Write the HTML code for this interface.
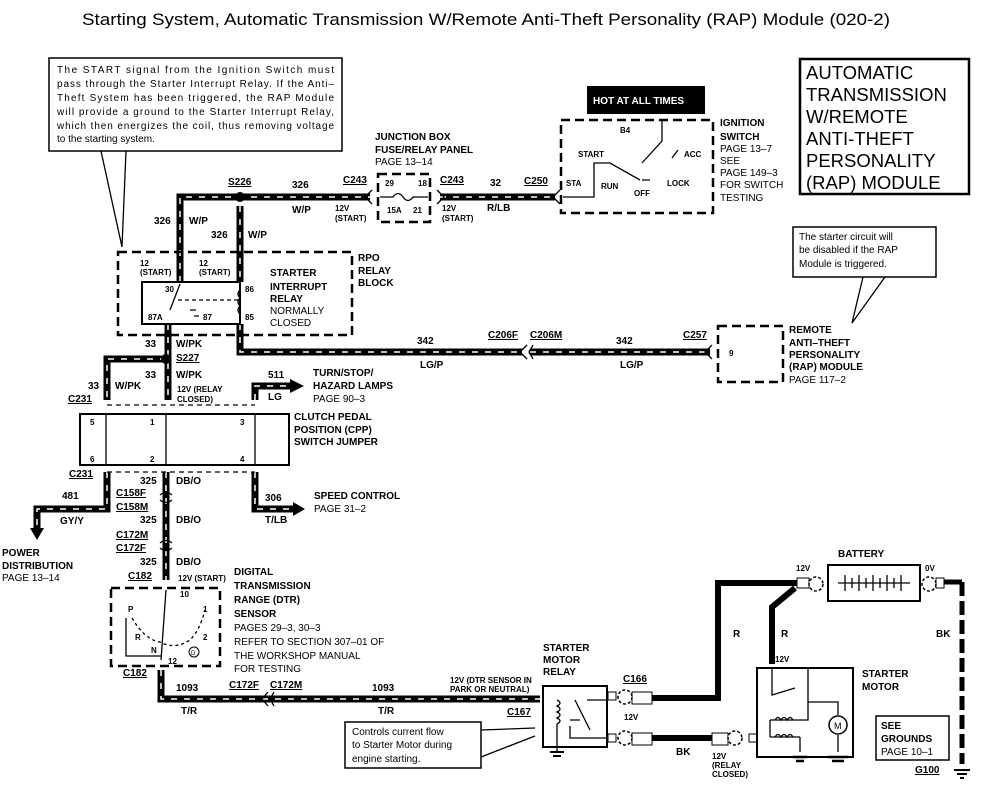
<!DOCTYPE html>
<html><head><meta charset="utf-8"><style>
html,body{margin:0;padding:0;background:#fff;}
svg{display:block;font-family:"Liberation Sans",sans-serif;}
.b{font-weight:bold;font-size:10px;}
.n{font-size:10px;}
.s{font-size:8px;font-weight:bold;}
.w{fill:none;stroke:#000;stroke-width:7;stroke-linejoin:miter;}
.d{fill:none;stroke:#fff;stroke-width:1.5;stroke-dasharray:6 7;}
.l{fill:none;stroke:#000;stroke-width:1.3;}
.dash{fill:none;stroke:#000;stroke-width:2.5;stroke-dasharray:9 5;}
</style></head><body>
<svg width="990" height="789" viewBox="0 0 990 789">
<text x="82" y="25" font-size="17" textLength="808" lengthAdjust="spacingAndGlyphs">Starting System, Automatic Transmission W/Remote Anti-Theft Personality (RAP) Module (020-2)</text>

<rect x="49" y="58" width="293" height="93" fill="#fff" stroke="#000" stroke-width="1.5"/>
<path class="l" d="M101 151 L122 247 M126 151 L122 247"/>
<g class="n" font-size="10.5">
<text x="57" y="73" textLength="277">The START signal from the Ignition Switch must</text>
<text x="57" y="87" textLength="277">pass through the Starter Interrupt Relay. If the Anti–</text>
<text x="57" y="101" textLength="277">Theft System has been triggered, the RAP Module</text>
<text x="57" y="115" textLength="277">will provide a ground to the Starter Interrupt Relay,</text>
<text x="57" y="129" textLength="277">which then energizes the coil, thus removing voltage</text>
<text x="57" y="142">to the starting system.</text>
</g>

<g>
<path class="w" d="M180 282 V197 H370"/><path class="d" d="M180 282 V197 H370"/>
<path class="w" d="M240 206 V282"/><path class="d" d="M240 206 V282"/>
<path class="w" d="M440 197 H555"/><path class="d" d="M440 197 H555"/>
<path class="w" d="M240 324 V352 H522"/><path class="d" d="M240 324 V352 H522"/>
<path class="w" d="M530 352 H710"/><path class="d" d="M530 352 H710"/>
<path class="w" d="M168 324 V400"/><path class="d" d="M168 324 V400"/>
<path class="w" d="M166 359 H107 V400"/><path class="d" d="M166 359 H107 V400"/>
<path class="w" d="M255 400 V386 H290"/><path class="d" d="M255 400 V386 H290"/>
<path class="w" d="M107 472 V509 H37 V528"/><path class="d" d="M107 472 V509 H37 V528"/>
<path class="w" d="M166 472 V580"/><path class="d" d="M166 472 V580"/>
<path class="w" d="M255 472 V509 H293"/><path class="d" d="M255 472 V509 H293"/>
<path class="w" d="M161 670 V699 H540"/><path class="d" d="M161 670 V699 H540"/>
</g>
<circle cx="240" cy="197" r="5"/>
<circle cx="166" cy="359" r="5"/>
<polygon points="290,379 304,386 290,393"/>
<polygon points="293,502 305,509 293,516"/>
<polygon points="30,528 44,528 37,540"/>
<path d="M372 190 L365 197 L372 204" class="l" stroke-width="2.5"/>
<path d="M437 190 L444 197 L437 204" class="l" stroke-width="2.5"/>
<path d="M560 190 L553 197 L560 204" class="l" stroke-width="2.5"/>
<path d="M712 345 L705 352 L712 359" class="l" stroke-width="2.5"/>
<path d="M527 345 L520 352 L527 359 M533 345 L529 352 L533 359" class="l" stroke-width="2.5"/>
<path d="M268 692 L262 699 L268 706 M274 692 L270 699 L274 706" class="l" stroke-width="2.5"/>
<path d="M160 495 Q166 490 172 495 M160 500 Q166 505 172 500 M160 543 Q166 538 172 543 M160 548 Q166 553 172 548" class="l" stroke-width="2.5"/>

<path class="l" stroke-dasharray="5 4" d="M107 405 H255 M107 472 H255"/>

<text x="228" y="185" class="b" text-decoration="underline">S226</text>
<text x="292" y="188" class="b">326</text>
<text x="292" y="213" class="b">W/P</text>
<text x="335" y="211" class="s">12V</text><text x="335" y="221" class="s">(START)</text>
<text x="343" y="183" class="b" text-decoration="underline">C243</text>
<text x="440" y="183" class="b" text-decoration="underline">C243</text>
<text x="442" y="211" class="s">12V</text><text x="442" y="221" class="s">(START)</text>
<text x="490" y="186" class="b">32</text><text x="487" y="211" class="b">R/LB</text>
<text x="524" y="184" class="b" text-decoration="underline">C250</text>
<text x="375" y="140" class="b">JUNCTION BOX</text>
<text x="375" y="153" class="b">FUSE/RELAY PANEL</text>
<text x="375" y="165" class="n">PAGE 13–14</text>
<rect x="378" y="174" width="52" height="48" class="dash" stroke-width="2"/>
<text x="385" y="186" class="s">29</text><text x="418" y="186" class="s">18</text>
<text x="387" y="213" class="s">15A</text><text x="413" y="213" class="s">21</text>
<path class="l" d="M380 197 H393 Q398 190 403 197 Q408 204 413 197 H428"/>

<text x="154" y="224" class="b">326</text><text x="189" y="224" class="b">W/P</text>
<text x="211" y="238" class="b">326</text><text x="248" y="238" class="b">W/P</text>

<rect x="118" y="252" width="234" height="83" class="dash"/>
<text x="358" y="261" class="b">RPO</text><text x="358" y="274" class="b">RELAY</text><text x="358" y="286" class="b">BLOCK</text>
<text x="140" y="266" class="s">12</text><text x="140" y="275" class="s">(START)</text>
<text x="199" y="266" class="s">12</text><text x="199" y="275" class="s">(START)</text>
<rect x="142" y="282" width="98" height="42" fill="#fff" stroke="#000" stroke-width="2"/>
<text x="165" y="292" class="s">30</text><text x="245" y="292" class="s">86</text>
<text x="148" y="320" class="s">87A</text><text x="203" y="320" class="s">87</text><text x="245" y="320" class="s">85</text>
<path class="l" d="M180 284 L170 310"/>
<path class="l" stroke-dasharray="4 3" d="M178 300 H238"/>
<path class="l" d="M240 290 q-4 4 0 8 q-4 4 0 8 q-4 4 0 8 M194 316 h5 M190 310 h6"/>
<text x="270" y="276" class="b">STARTER</text><text x="270" y="290" class="b">INTERRUPT</text>
<text x="270" y="302" class="b">RELAY</text><text x="270" y="314" class="n">NORMALLY</text><text x="270" y="326" class="n">CLOSED</text>

<text x="145" y="347" class="b">33</text><text x="176" y="347" class="b">W/PK</text>
<text x="176" y="361" class="b" text-decoration="underline">S227</text>
<text x="145" y="378" class="b">33</text><text x="176" y="378" class="b">W/PK</text>
<text x="88" y="389" class="b">33</text><text x="115" y="389" class="b">W/PK</text>
<text x="177" y="392" class="s">12V (RELAY</text><text x="177" y="402" class="s">CLOSED)</text>
<text x="68" y="402" class="b" text-decoration="underline">C231</text>
<text x="268" y="378" class="b">511</text><text x="268" y="400" class="b">LG</text>
<text x="313" y="376" class="b">TURN/STOP/</text><text x="313" y="389" class="b">HAZARD LAMPS</text><text x="313" y="402" class="n">PAGE 90–3</text>

<text x="417" y="344" class="b">342</text><text x="420" y="368" class="b">LG/P</text>
<text x="488" y="338" class="b" text-decoration="underline">C206F</text>
<text x="530" y="338" class="b" text-decoration="underline">C206M</text>
<text x="616" y="344" class="b">342</text><text x="620" y="368" class="b">LG/P</text>
<text x="683" y="338" class="b" text-decoration="underline">C257</text>

<rect x="80" y="414" width="209" height="51" fill="none" stroke="#000" stroke-width="2"/>
<path class="l" d="M106 414 V465 M166 414 V465 M255 414 V465"/>
<text x="90" y="425" class="s">5</text><text x="150" y="425" class="s">1</text><text x="240" y="425" class="s">3</text>
<text x="90" y="462" class="s">6</text><text x="150" y="462" class="s">2</text><text x="240" y="462" class="s">4</text>
<text x="294" y="420" class="b">CLUTCH PEDAL</text><text x="294" y="433" class="b">POSITION (CPP)</text><text x="294" y="445" class="b">SWITCH JUMPER</text>
<text x="69" y="477" class="b" text-decoration="underline">C231</text>
<text x="140" y="484" class="b">325</text><text x="176" y="484" class="b">DB/O</text>
<text x="62" y="499" class="b">481</text><text x="60" y="524" class="b">GY/Y</text>
<text x="116" y="496" class="b" text-decoration="underline">C158F</text>
<text x="116" y="510" class="b" text-decoration="underline">C158M</text>
<text x="140" y="523" class="b">325</text><text x="176" y="523" class="b">DB/O</text>
<text x="116" y="538" class="b" text-decoration="underline">C172M</text>
<text x="116" y="551" class="b" text-decoration="underline">C172F</text>
<text x="140" y="565" class="b">325</text><text x="176" y="565" class="b">DB/O</text>
<text x="128" y="579" class="b" text-decoration="underline">C182</text>
<text x="178" y="581" class="s">12V (START)</text>
<text x="265" y="501" class="b">306</text><text x="265" y="523" class="b">T/LB</text>
<text x="314" y="499" class="b">SPEED CONTROL</text><text x="314" y="512" class="n">PAGE 31–2</text>
<text x="2" y="556" class="b">POWER</text><text x="2" y="569" class="b">DISTRIBUTION</text><text x="2" y="581" class="n">PAGE 13–14</text>

<rect x="111" y="588" width="109" height="78" class="dash"/>
<path class="l" d="M166 590 L161 660 M126 618 V656 H161"/>
<path class="l" stroke-dasharray="3 3" d="M132 618 Q145 640 160 642 Q175 650 190 640 Q200 630 205 610"/>
<text x="180" y="597" class="s">10</text><text x="128" y="612" class="s">P</text><text x="203" y="612" class="s">1</text>
<text x="135" y="640" class="s">R</text><text x="203" y="640" class="s">2</text><text x="151" y="653" class="s">N</text>
<text x="168" y="664" class="s">12</text><circle cx="194" cy="652" r="5" fill="none" stroke="#000"/><text x="191" y="655" font-size="6">D</text>
<text x="234" y="575" class="b">DIGITAL</text><text x="234" y="589" class="b">TRANSMISSION</text>
<text x="234" y="603" class="b">RANGE (DTR)</text><text x="234" y="617" class="b">SENSOR</text>
<text x="234" y="631" class="n">PAGES 29–3, 30–3</text><text x="234" y="645" class="n">REFER TO SECTION 307–01 OF</text>
<text x="234" y="659" class="n">THE WORKSHOP MANUAL</text><text x="234" y="672" class="n">FOR TESTING</text>
<text x="123" y="676" class="b" text-decoration="underline">C182</text>
<text x="176" y="691" class="b">1093</text><text x="181" y="714" class="b">T/R</text>
<text x="229" y="688" class="b" text-decoration="underline">C172F</text>
<text x="270" y="688" class="b" text-decoration="underline">C172M</text>
<text x="372" y="691" class="b">1093</text><text x="378" y="714" class="b">T/R</text>
<text x="450" y="683" class="s">12V (DTR SENSOR IN</text><text x="450" y="692" class="s">PARK OR NEUTRAL)</text>
<text x="507" y="715" class="b" text-decoration="underline">C167</text>

<rect x="345" y="722" width="136" height="46" fill="#fff" stroke="#000" stroke-width="1.5"/>
<path class="l" d="M481 730 L535 728 M481 757 L535 736"/>
<text x="352" y="735" class="n" font-size="10.5">Controls current flow</text>
<text x="352" y="748" class="n" font-size="10.5">to Starter Motor during</text>
<text x="352" y="762" class="n" font-size="10.5">engine starting.</text>

<rect x="587" y="86" width="118" height="28" fill="#000"/>
<text x="593" y="104" fill="#fff" class="b" font-size="10">HOT AT ALL TIMES</text>
<rect x="561" y="120" width="152" height="93" class="dash"/>
<path class="l" d="M563 197 H594 V163 H610 L640 180 M642 180 H650 M642 163 L662 141 V120 M678 150 L672 158"/>
<text x="620" y="133" class="s">B4</text><text x="578" y="157" class="s">START</text><text x="684" y="157" class="s">ACC</text>
<text x="566" y="186" class="s">STA</text><text x="601" y="189" class="s">RUN</text><text x="634" y="196" class="s">OFF</text><text x="667" y="186" class="s">LOCK</text>
<text x="720" y="126" class="b">IGNITION</text><text x="720" y="140" class="b">SWITCH</text>
<text x="720" y="152" class="n">PAGE 13–7</text><text x="720" y="164" class="n">SEE</text>
<text x="720" y="176" class="n">PAGE 149–3</text><text x="720" y="188" class="n">FOR SWITCH</text><text x="720" y="201" class="n">TESTING</text>

<rect x="800" y="59" width="169" height="135" fill="none" stroke="#000" stroke-width="2.5"/>
<g font-size="18.5">
<text x="806" y="79">AUTOMATIC</text><text x="806" y="101">TRANSMISSION</text>
<text x="806" y="123">W/REMOTE</text><text x="806" y="145">ANTI-THEFT</text>
<text x="806" y="167">PERSONALITY</text><text x="806" y="189">(RAP)  MODULE</text>
</g>

<rect x="793" y="227" width="143" height="50" fill="#fff" stroke="#000" stroke-width="1.5"/>
<path class="l" d="M863 277 L852 323 L885 277"/>
<text x="799" y="240" class="n" font-size="10.5">The starter circuit will</text>
<text x="799" y="253" class="n" font-size="10.5">be disabled if the RAP</text>
<text x="799" y="267" class="n" font-size="10.5">Module is triggered.</text>

<rect x="718" y="326" width="65" height="56" class="dash"/>
<text x="729" y="356" class="s">9</text>
<text x="789" y="333" class="b">REMOTE</text><text x="789" y="346" class="b">ANTI–THEFT</text>
<text x="789" y="358" class="b">PERSONALITY</text><text x="789" y="370" class="b">(RAP) MODULE</text><text x="789" y="383" class="n">PAGE 117–2</text>

<path d="M797 583 H718 V698 H651" fill="none" stroke="#000" stroke-width="6"/>
<path d="M795 588 L772 607 V664" fill="none" stroke="#000" stroke-width="6"/>
<path d="M652 738 H712" fill="none" stroke="#000" stroke-width="6"/>
<path d="M962 582 V764" fill="none" stroke="#000" stroke-width="5" stroke-dasharray="14 5"/>
<path d="M940 582 H962" fill="none" stroke="#000" stroke-width="5"/>
<rect x="797" y="578" width="12" height="10" fill="#fff" stroke="#000"/>
<rect x="936" y="578" width="8" height="10" fill="#fff" stroke="#000"/>
<rect x="632" y="692" width="20" height="12" fill="#fff" stroke="#000"/>
<rect x="632" y="733" width="20" height="12" fill="#fff" stroke="#000"/>
<rect x="712" y="733" width="16" height="12" fill="#fff" stroke="#000"/>
<rect x="608" y="692" width="8" height="8" fill="#fff" stroke="#000"/>
<rect x="608" y="734" width="8" height="8" fill="#fff" stroke="#000"/>
<rect x="749" y="734" width="8" height="8" fill="#fff" stroke="#000"/>
<rect x="828" y="565" width="92" height="36" fill="#fff" stroke="#000" stroke-width="2"/>
<path class="l" d="M838 583 H910 M845 575 V591 M852 578 V588 M859 575 V591 M866 578 V588 M873 575 V591 M880 578 V588 M887 575 V591 M894 578 V588 M901 575 V591"/>
<circle cx="816" cy="584" r="7" fill="#fff" stroke="#000" stroke-dasharray="3 2" stroke-width="1.5"/>
<circle cx="929" cy="584" r="7" fill="#fff" stroke="#000" stroke-dasharray="3 2" stroke-width="1.5"/>
<text x="838" y="557" class="b">BATTERY</text>
<text x="796" y="571" class="s">12V</text><text x="925" y="571" class="s">0V</text>
<text x="733" y="637" class="b">R</text><text x="781" y="637" class="b">R</text><text x="936" y="637" class="b">BK</text>
<text x="775" y="662" class="s">12V</text>
<rect x="757" y="668" width="96" height="89" fill="#fff" stroke="#000" stroke-width="2"/>
<path class="l" d="M772 668 V695 L795 688 M808 668 V720 H790 M808 702 H838 V715 M770 720 V737 M770 720 H795 M770 737 H800 M800 737 V752 M838 735 V752"/>
<path class="l" d="M775 720 q3 -5 6 0 q3 -5 6 0 q3 -5 6 0 M775 737 q3 -5 6 0 q3 -5 6 0 q3 -5 6 0"/>
<circle cx="838" cy="725" r="9" fill="#fff" stroke="#000" stroke-width="1.5"/><text x="834" y="729" font-size="9">M</text>
<path d="M793 757 H807 M796 761 H804 M828 757 H848 M832 761 H844" stroke="#000" stroke-width="2.5"/>
<text x="862" y="677" class="b">STARTER</text><text x="862" y="690" class="b">MOTOR</text>
<rect x="876" y="716" width="73" height="44" fill="none" stroke="#000" stroke-width="1.5"/>
<text x="881" y="729" class="b">SEE</text><text x="881" y="742" class="b">GROUNDS</text><text x="881" y="755" class="n">PAGE 10–1</text>
<text x="915" y="773" class="b" text-decoration="underline">G100</text>
<path d="M954 770 H970 M957 774 H967 M960 778 H964" stroke="#000" stroke-width="2"/>
<rect x="543" y="686" width="64" height="61" fill="#fff" stroke="#000" stroke-width="2"/>
<path class="l" d="M557 700 q6 3 0 6 q6 3 0 6 q6 3 0 6 q6 3 0 6 V752 M575 700 L590 730 M570 720 H580 M570 726 V738 H607 M587 700 H607"/>
<path d="M550 752 H564 M553 756 H561" stroke="#000" stroke-width="2"/>
<text x="543" y="651" class="b">STARTER</text><text x="543" y="663" class="b">MOTOR</text><text x="543" y="675" class="b">RELAY</text>
<text x="623" y="682" class="b" text-decoration="underline">C166</text>
<circle cx="625" cy="697" r="7" fill="#fff" stroke="#000" stroke-dasharray="3 2" stroke-width="1.5"/>
<circle cx="625" cy="738" r="7" fill="#fff" stroke="#000" stroke-dasharray="3 2" stroke-width="1.5"/>
<circle cx="735" cy="738" r="7" fill="#fff" stroke="#000" stroke-dasharray="3 2" stroke-width="1.5"/>
<text x="624" y="720" class="s">12V</text>
<text x="676" y="755" class="b">BK</text>
<text x="712" y="759" class="s">12V</text><text x="712" y="768" class="s">(RELAY</text><text x="712" y="777" class="s">CLOSED)</text>
</svg>
</body></html>
